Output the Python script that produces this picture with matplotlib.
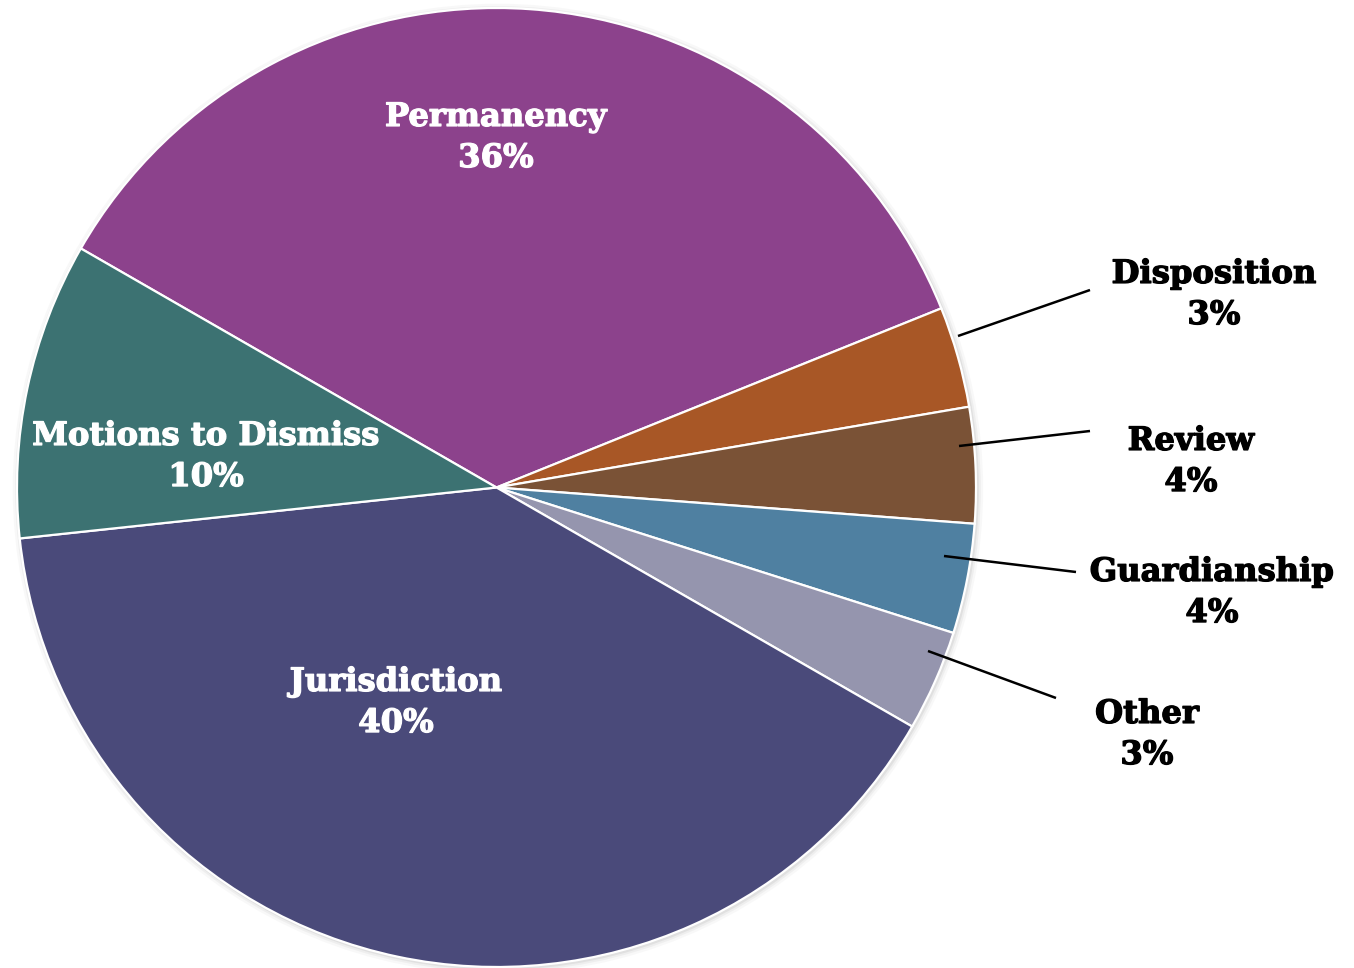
import matplotlib
matplotlib.use("Agg")
import matplotlib.pyplot as plt
import matplotlib.patheffects as pe
from matplotlib.patches import Circle

# Share of cases by hearing type (percent), in clockwise order
categories = ["Permanency", "Disposition", "Review", "Guardianship",
              "Other", "Jurisdiction", "Motions to Dismiss"]
shares = [35.6, 3.4, 3.9, 3.7, 3.4, 40.0, 10.0]
colors = ["#8C428C", "#A85726", "#7A5236", "#4F80A1",
          "#9595AE", "#4A4A7A", "#3C7272"]

W, H, DPI = 1354, 968, 100
cx, cy, R = 496.5, 487.5, 479.5  # pie centre and radius in pixels

fig = plt.figure(figsize=(W / DPI, H / DPI), dpi=DPI)
ax = fig.add_axes([0, 0, 1, 1])

# soft edge shadow under the pie
for r, a in [(1.012, 0.05), (1.007, 0.08), (1.003, 0.12)]:
    ax.add_patch(Circle((0.003, -0.003), r, color="#808080", alpha=a, lw=0, zorder=0))

wedges, _ = ax.pie(shares, colors=colors, startangle=150.1, counterclock=False,
                   radius=1.0, center=(0, 0), frame=True,
                   wedgeprops=dict(edgecolor="white", linewidth=1.6))
ax.set_xlim(-cx / R, (W - cx) / R)
ax.set_ylim(-(H - cy) / R, cy / R)
ax.set_aspect("auto")
ax.axis("off")

font = dict(family="DejaVu Serif", fontweight="bold", fontsize=23.2,
            ha="center", va="center", linespacing=1.42)

def px(x, y):
    return ((x - cx) / R, (cy - y) / R)

labels = [f"{c}\n{v:.0f}%" for c, v in zip(categories, shares)]

# labels inside the large wedges
inside = {"Permanency": (496, 138), "Motions to Dismiss": (206, 457),
          "Jurisdiction": (396, 703)}
# labels outside the thin wedges, with leader line (start, end)
outside = {
    "Disposition": ((1214, 295), (958, 336), (1090, 290)),
    "Review": ((1191, 462), (959, 446), (1090, 431)),
    "Guardianship": ((1212, 593), (944, 556), (1076, 572)),
    "Other": ((1147, 735), (928, 651), (1056, 698)),
}

for cat, lab in zip(categories, labels):
    if cat in inside:
        ax.text(*px(*inside[cat]), lab, color="white",
                path_effects=[pe.withStroke(linewidth=0.9, foreground="white")], **font)
    else:
        tpos, p0, p1 = outside[cat]
        ax.text(*px(*tpos), lab, color="black",
                path_effects=[pe.withStroke(linewidth=0.9, foreground="black")], **font)
        (x0, y0), (x1, y1) = px(*p0), px(*p1)
        ax.plot([x0, x1], [y0, y1], color="black", lw=1.8, solid_capstyle="butt")

fig.savefig("out.png", dpi=DPI, facecolor="white")
